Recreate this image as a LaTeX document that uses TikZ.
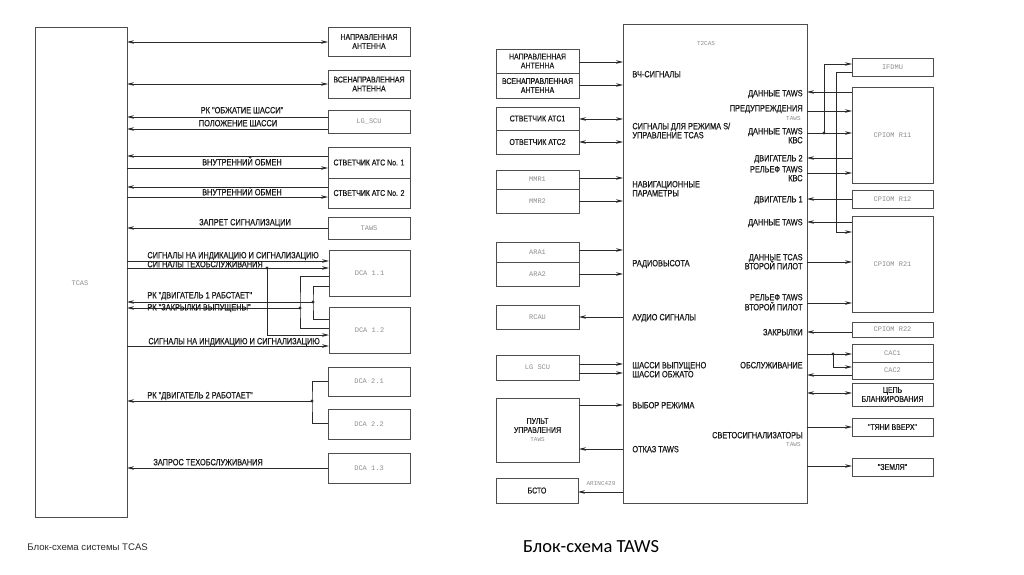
\documentclass[tikz,border=0pt]{standalone}
\usepackage{fontspec}
\setmainfont{Liberation Sans}
\newfontfamily\labfont[FakeStretch=0.82, FakeBold=0.5]{Liberation Sans}
\newfontfamily\monofnt{Liberation Mono}
\newfontfamily\captfont{Carlito}
\usetikzlibrary{arrows.meta}
\definecolor{wire}{HTML}{2B2B2B}
\definecolor{frame}{HTML}{4D4D4D}
\definecolor{mgray}{HTML}{8C8C8C}
\definecolor{ink}{HTML}{1A1A1A}
\newcommand{\mtxt}[2][7]{{\monofnt\fontsize{#1}{#1}\selectfont\color{mgray}#2}}
\newcommand{\blk}[6]{\node[blk, minimum width={#4-#2}, minimum height={#5-#3}] (#1) at ({(#2+#4)/2},{(#3+#5)/2}) {#6};}
\newcommand{\wire}[4][->]{\draw[#1] (#2 |- 0,#4) -- (#3 |- 0,#4);}
\tikzset{
  blk/.style={draw=frame, line width=0.9pt, align=center, inner sep=1pt, outer sep=0pt,
    text=ink, font=\labfont\fontsize{8.5}{9}\selectfont},
  lab/.style={inner sep=0pt, text=ink, text height=6.5pt, text depth=0pt,
    font=\labfont\fontsize{9}{9}\selectfont},
  jdot/.style={circle, fill=wire, inner sep=0pt, minimum size=3.2pt},
}

\begin{document}
\begin{tikzpicture}[x=1pt, y=-1pt, >={Stealth[length=7pt,width=3.6pt]}, line width=0.8pt, color=wire]
\useasboundingbox (0,0) rectangle (1024,574);

%% TCAS
\blk{tcas}{35}{27}{127}{517}{}
\node (tcasl) at (80,283) {\mtxt{TCAS}};
\blk{ant1}{328}{27}{410}{56}{НАПРАВЛЕННАЯ\\АНТЕННА}
\blk{ant2}{328}{70}{410}{98}{ВСЕНАПРАВЛЕННАЯ\\АНТЕННА}
\blk{lgscu}{328}{110}{410}{133}{\mtxt{LG\_SCU}}
\blk{atc1}{328}{147}{410}{178}{СТВЕТЧИК АТС No. 1}
\blk{atc2}{328}{178}{410}{208}{СТВЕТЧИК АТС No. 2}
\blk{taws}{328}{217}{410}{239}{\mtxt{TAWS}}
\blk{dcaa}{329}{250}{410}{296}{\mtxt{DCA 1.1}}
\blk{dcab}{329}{307}{410}{353}{\mtxt{DCA 1.2}}
\blk{dcac}{328}{367}{410}{396}{\mtxt{DCA 2.1}}
\blk{dcad}{328}{409}{410}{439}{\mtxt{DCA 2.2}}
\blk{dcae}{328}{453}{410}{483}{\mtxt{DCA 1.3}}

\wire[<->]{tcas.east}{ant1.west}{42}
\wire[<->]{tcas.east}{ant2.west}{84}
\wire[<-]{tcas.east}{lgscu.west}{117}
\wire[<-]{tcas.east}{lgscu.west}{129}
\wire[<-]{tcas.east}{atc1.west}{156}
\wire{tcas.east}{atc1.west}{168}
\wire[<-]{tcas.east}{atc2.west}{187}
\wire{tcas.east}{atc2.west}{197}
\wire[<-]{tcas.east}{taws.west}{228}
\wire{tcas.east}{dcaa.west}{261}
\wire{tcas.east}{dcaa.west}{268}
\coordinate (ja) at (267,268);
\draw[->] (ja) |- (dcab.west |- 0,335);
\coordinate (jb) at (313,302);
\coordinate (jc) at (300,308);
\draw (dcaa.west |- 0,286) -| (jb) |- (dcab.west |- 0,319);
\draw[<-] (tcas.east |- jb) -- (jb);
\draw (dcaa.west |- 0,276) -| (jc) |- (dcab.west |- 0,328);
\draw[<-] (tcas.east |- jc) -- (jc);
\wire{tcas.east}{dcab.west}{346}
\coordinate (jd) at (312,401);
\draw (dcac.west |- 0,381) -| (jd) |- (dcad.west |- 0,423);
\draw[<-] (tcas.east |- jd) -- (jd);
\wire[<-]{tcas.east}{dcae.west}{468}
\node[jdot] (dja) at (ja) {};
\node[jdot] (djb) at (jb) {};
\node[jdot] (djc) at (jc) {};
\node[jdot] (djd) at (jd) {};

\node[lab] (la) at (242,110) {РК "ОБЖАТИЕ ШАССИ"};
\node[lab] (lb) at (238,123) {ПОЛОЖЕНИЕ ШАССИ};
\node[lab] (lc) at (242,162) {ВНУТРЕННИЙ ОБМЕН};
\node[lab] (ld) at (242,192) {ВНУТРЕННИЙ ОБМЕН};
\node[lab] (le) at (245,222) {ЗАПРЕТ СИГНАЛИЗАЦИИ};
\node[lab, anchor=west] (lf) at (147,255) {СИГНАЛЫ НА ИНДИКАЦИЮ И СИГНАЛИЗАЦИЮ};
\node[lab, anchor=west] (lg) at (147,264) {СИГНАЛЫ ТЕХОБСЛУЖИВАНИЯ};
\node[lab, anchor=west] (lh) at (147,295) {РК "ДВИГАТЕЛЬ 1 РАБСТАЕТ"};
\node[lab, anchor=west] (li) at (147,307) {РК "ЗАКРЫЛКИ ВЫПУЩЕНЫ"};
\node[lab, anchor=west] (lj) at (148,341) {СИГНАЛЫ НА ИНДИКАЦИЮ И СИГНАЛИЗАЦИЮ};
\node[lab, anchor=west] (lk) at (147,395) {РК "ДВИГАТЕЛЬ 2 РАБОТАЕТ"};
\node[lab, anchor=west] (ll) at (153,462) {ЗАПРОС ТЕХОБСЛУЖИВАНИЯ};

%% TAWS
\blk{t2cas}{623}{24}{807}{503}{}
\node (t2l) at (706,44) {\mtxt[6]{T2CAS}};
\blk{rant1}{496}{49}{579}{73}{НАПРАВЛЕННАЯ\\АНТЕННА}
\blk{rant2}{496}{73}{579}{98}{ВСЕНАПРАВЛЕННАЯ\\АНТЕННА}
\blk{ratc1}{496}{107}{579}{130}{СТВЕТЧИК АТС1}
\blk{ratc2}{496}{130}{579}{154}{ОТВЕТЧИК АТС2}
\blk{mmra}{496}{170}{579}{189}{\mtxt{MMR1}}
\blk{mmrb}{496}{189}{579}{213}{\mtxt{MMR2}}
\blk{araa}{496}{242}{579}{262}{\mtxt{ARA1}}
\blk{arab}{496}{262}{579}{286}{\mtxt{ARA2}}
\blk{rcau}{496}{305}{579}{329}{\mtxt{RCAU}}
\blk{rlg}{496}{355}{579}{380}{\mtxt{LG SCU}}
\blk{pult}{496}{398}{579}{462}{ПУЛЬТ\\УПРАВЛЕНИЯ\\\mtxt[6]{TAWS}}
\blk{bsto}{496}{478}{578}{503}{БСТО}

\blk{ifdmu}{852}{58}{933}{76}{\mtxt{IFDMU}}
\blk{ra}{852}{87}{933}{183}{\mtxt{CPIOM R11}}
\blk{rb}{852}{190}{933}{208}{\mtxt{CPIOM R12}}
\blk{rc}{852}{216}{933}{312}{\mtxt{CPIOM R21}}
\blk{rd}{852}{322}{933}{337}{\mtxt{CPIOM R22}}
\blk{caca}{852}{344}{933}{362}{\mtxt{CAC1}}
\blk{cacb}{852}{362}{933}{379}{\mtxt{CAC2}}
\blk{blank}{852}{383}{933}{406}{ЦЕПЬ\\БЛАНКИРОВАНИЯ}
\blk{pullup}{852}{418}{933}{436}{"ТЯНИ ВВЕРХ"}
\blk{ground}{852}{458}{933}{476}{"ЗЕМЛЯ"}

\wire{rant1.east}{t2cas.west}{62}
\wire{rant2.east}{t2cas.west}{85}
\wire[<->]{ratc1.east}{t2cas.west}{119}
\wire[<->]{ratc2.east}{t2cas.west}{142}
\wire{mmra.east}{t2cas.west}{178}
\wire{mmrb.east}{t2cas.west}{201}
\wire{araa.east}{t2cas.west}{250}
\wire{arab.east}{t2cas.west}{274}
\wire[<-]{rcau.east}{t2cas.west}{317}
\wire{rlg.east}{t2cas.west}{364}
\wire{rlg.east}{t2cas.west}{373}
\wire{pult.east}{t2cas.west}{405}
\wire[<-]{pult.east}{t2cas.west}{449}
\wire[<-]{bsto.east}{t2cas.west}{492}
\node (arinc) at (601,484) {\mtxt[6]{ARINC429}};

\wire[<-]{t2cas.east}{ra.west}{92}
\wire{t2cas.east}{ra.west}{111}
\wire{t2cas.east}{ra.west}{133}
\coordinate (je) at (824,133);
\draw[->] (je) |- (ifdmu.west |- 0,64);
\wire[<-]{t2cas.east}{ra.west}{158}
\wire{t2cas.east}{ra.west}{173}
\coordinate (kf) at (836,232);
\draw[->] (ifdmu.west |- 0,72) -| (kf) -- (rc.west |- kf);
\wire[<-]{t2cas.east}{rb.west}{199}
\wire[<-]{t2cas.east}{rc.west}{222}
\wire{t2cas.east}{rc.west}{262}
\wire{t2cas.east}{rc.west}{303}
\wire[<-]{t2cas.east}{rd.west}{332}
\wire{t2cas.east}{caca.west}{354}
\coordinate (jg) at (833,354);
\draw[->] (jg) |- (cacb.west |- 0,367);
\wire[<-]{t2cas.east}{cacb.west}{375}
\wire[<->]{t2cas.east}{blank.west}{393}
\wire{t2cas.east}{pullup.west}{427}
\wire{t2cas.east}{ground.west}{466}
\node[jdot] (dje) at (je) {};
\node[jdot] (djg) at (jg) {};

% inner labels, left side
\node[lab, anchor=west] (ra1) at (632,74) {ВЧ-СИГНАЛЫ};
\node[lab, anchor=west] (ra2) at (632,126) {СИГНАЛЫ ДЛЯ РЕЖИМА S/};
\node[lab, anchor=west] (ra3) at (632,135) {УПРАВЛЕНИЕ TCAS};
\node[lab, anchor=west] (ra4) at (632,184) {НАВИГАЦИОННЫЕ};
\node[lab, anchor=west] (ra5) at (632,193) {ПАРАМЕТРЫ};
\node[lab, anchor=west] (ra6) at (632,263) {РАДИОВЫСОТА};
\node[lab, anchor=west] (ra7) at (632,317) {АУДИО СИГНАЛЫ};
\node[lab, anchor=west] (ra8) at (632,365) {ШАССИ ВЫПУЩЕНО};
\node[lab, anchor=west] (ra9) at (632,374) {ШАССИ ОБЖАТО};
\node[lab, anchor=west] (ra10) at (632,405) {ВЫБОР РЕЖИМА};
\node[lab, anchor=west] (ra11) at (632,449) {ОТКАЗ TAWS};

% inner labels, right side
\node[lab, anchor=east] (rb1) at (803,93) {ДАННЫЕ TAWS};
\node[lab, anchor=east] (rb2) at (803,108) {ПРЕДУПРЕЖДЕНИЯ};
\node[anchor=east, inner sep=0pt] (rb3) at (801,119) {\mtxt[6]{TAWS}};
\node[lab, anchor=east] (rb4) at (803,131) {ДАННЫЕ TAWS};
\node[lab, anchor=east] (rb5) at (803,140) {КВС};
\node[lab, anchor=east] (rb6) at (803,158) {ДВИГАТЕЛЬ 2};
\node[lab, anchor=east] (rb7) at (803,169) {РЕЛЬЕФ TAWS};
\node[lab, anchor=east] (rb8) at (803,178) {КВС};
\node[lab, anchor=east] (rb9) at (803,199) {ДВИГАТЕЛЬ 1};
\node[lab, anchor=east] (rb10) at (803,222) {ДАННЫЕ TAWS};
\node[lab, anchor=east] (rb11) at (803,257) {ДАННЫЕ TCAS};
\node[lab, anchor=east] (rb12) at (803,266) {ВТОРОЙ ПИЛОТ};
\node[lab, anchor=east] (rb13) at (803,297) {РЕЛЬЕФ TAWS};
\node[lab, anchor=east] (rb14) at (803,307) {ВТОРОЙ ПИЛОТ};
\node[lab, anchor=east] (rb15) at (803,332) {ЗАКРЫЛКИ};
\node[lab, anchor=east] (rb16) at (803,365) {ОБСЛУЖИВАНИЕ};
\node[lab, anchor=east] (rb17) at (803,435) {СВЕТОСИГНАЛИЗАТОРЫ};
\node[anchor=east, inner sep=0pt] (rb18) at (801,445) {\mtxt[6]{TAWS}};

%% captions
\node[anchor=west, inner sep=0pt, text=wire, font=\fontsize{9.6}{10}\selectfont] (capl) at (27,547) {Блок-схема системы TCAS};
\node[inner sep=0pt, text=black, font=\captfont\fontsize{18.5}{20}\selectfont] (capr) at (591,547) {Блок-схема TAWS};
\end{tikzpicture}
\end{document}
